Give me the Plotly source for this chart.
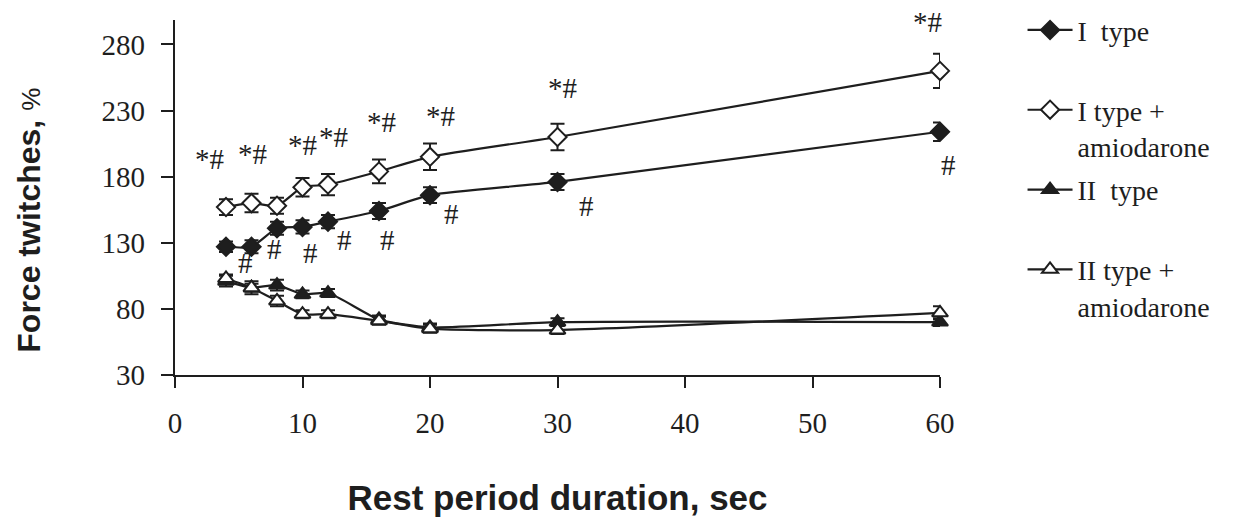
import plotly.graph_objects as go

# ---- data ----
rest_sec = [4, 6, 8, 10, 12, 16, 20, 30, 60]

type1 = [127, 127, 141, 142, 146, 154, 166, 176, 214]
type1_err = [4, 5, 5, 5, 5, 6, 6, 6, 7]

type1_amio = [157, 160, 158, 172, 174, 184, 195, 210, 260]
type1_amio_err = [6, 7, 6, 7, 8, 9, 10, 10, 13]

type2 = [101, 96, 98, 91, 92, 72, 66, 70, 70]
type2_err = [4, 5, 4, 3, 3, 3, 3, 3, 3]

type2_amio = [103, 96, 86, 76, 76, 71, 65, 64, 77]
type2_amio_err = [3, 3, 4, 3, 3, 3, 3, 3, 5]

star_hash_x = [2.7, 6.1, 10.0, 12.4, 16.2, 20.8, 30.4, 59.0]
star_hash_y = [193, 197, 204, 210, 221, 226, 247, 297]
hash_x = [5.5, 7.8, 10.6, 13.3, 16.7, 21.7, 32.3, 60.0]
hash_y = [115, 125, 122, 132, 132, 152, 158, 189]
hash_xshift = [0, 0, 0, 0, 0, 0, 0, 8]

x_ticks = [0, 10, 20, 30, 40, 50, 60]
y_ticks = [30, 80, 130, 180, 230, 280]

series_names = ["I\u00a0 type<br>\u00a0", "I type +<br>amiodarone",
                "II\u00a0 type<br>\u00a0", "II type +<br>amiodarone"]

INK = "#1e1e1e"
SERIF = "Liberation Serif"
SANS = "Liberation Sans"

fig = go.Figure()

def add_series(y, err, name, symbol, fill, group):
    fig.add_trace(go.Scatter(
        x=rest_sec, y=y, name=name, mode="lines+markers", legendgroup=group,
        line=dict(color=INK, width=2.2, shape="spline", smoothing=0.6),
        marker=dict(symbol=symbol, size=14, color=fill,
                    line=dict(color=INK, width=2)),
        error_y=dict(type="data", array=err, visible=True, color=INK,
                     thickness=2, width=7),
        cliponaxis=False,
    ))

add_series(type1, type1_err, series_names[0], "diamond", INK, "g1")
add_series(type1_amio, type1_amio_err, series_names[1], "diamond", "white", "g2")
add_series(type2, type2_err, series_names[2], "triangle-up", INK, "g3")
add_series(type2_amio, type2_amio_err, series_names[3], "triangle-up", "white", "g4")

for xv, yv in zip(star_hash_x, star_hash_y):
    fig.add_annotation(x=xv, y=yv, text="*#", showarrow=False,
                       font=dict(family=SERIF, size=29, color=INK))
for xv, yv, xs in zip(hash_x, hash_y, hash_xshift):
    fig.add_annotation(x=xv, y=yv, xshift=xs, text="#", showarrow=False,
                       font=dict(family=SERIF, size=29, color=INK))

# y-axis title (placed as rotated text, offset downward as in the original)
fig.add_annotation(
    xref="paper", yref="paper", x=-0.192, y=0.435,
    xanchor="center", yanchor="middle", textangle=-90, showarrow=False,
    text="Force twitches, <span style='font-size:26px;font-weight:normal'>%</span>",
    font=dict(family=SANS, size=32, color=INK, weight="bold"),
)

fig.update_layout(
    width=1247, height=523,
    margin=dict(l=175, r=307, t=20, b=140),
    plot_bgcolor="white", paper_bgcolor="white",
    showlegend=True,
    legend=dict(
        xref="container", yref="container", x=0.82, y=0.99,
        xanchor="left", yanchor="top",
        font=dict(family=SERIF, size=28, color=INK),
        valign="top", tracegroupgap=4, itemwidth=45,
        bgcolor="rgba(0,0,0,0)", maxheight=520,
    ),
    xaxis=dict(
        range=[0, 60], tickvals=x_ticks, ticktext=[str(v) for v in x_ticks],
        showline=True, linecolor=INK, linewidth=2.2,
        ticks="outside", ticklen=11, tickwidth=2, tickcolor=INK,
        showgrid=False, zeroline=False,
        tickfont=dict(family=SERIF, size=29, color=INK),
        ticklabelstandoff=10,
        title=dict(text="Rest period duration, sec", standoff=48,
                   font=dict(family=SANS, size=35, color=INK, weight="bold")),
    ),
    yaxis=dict(
        range=[30, 298.5], tickvals=y_ticks, ticktext=[str(v) for v in y_ticks],
        showline=True, linecolor=INK, linewidth=2.2,
        ticks="outside", ticklen=12, tickwidth=2, tickcolor=INK,
        showgrid=False, zeroline=False,
        tickfont=dict(family=SERIF, size=29, color=INK),
        ticklabelstandoff=10,
    ),
)

fig.write_html("out.html")
